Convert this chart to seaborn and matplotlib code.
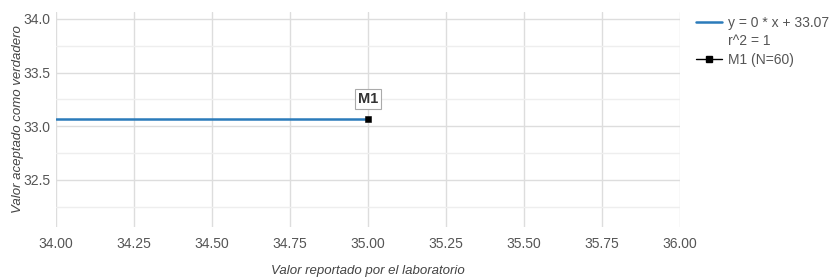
import numpy as np
import pandas as pd
import matplotlib
matplotlib.use("Agg")
import matplotlib.pyplot as plt
import seaborn as sns
from matplotlib.lines import Line2D
from matplotlib.ticker import MultipleLocator

# datos
linea_x = [34.0, 35.0]
linea_y = [33.07, 33.07]
puntos_x = [35.0]
puntos_y = [33.07]
puntos_nombre = ["M1"]
etiqueta_recta = "y = 0 * x + 33.07"
etiqueta_r2 = "r^2 = 1"
etiqueta_puntos = "M1 (N=60)"

sns.set_theme(style="white")
plt.rcParams['font.family'] = ['Liberation Sans', 'DejaVu Sans']

recta = pd.DataFrame({"x": linea_x, "y": linea_y})
puntos = pd.DataFrame({"x": puntos_x, "y": puntos_y, "nombre": puntos_nombre})

fig = plt.figure(figsize=(8.36, 2.8), dpi=100)
ax = fig.add_axes([56/836, 1-227/280, (680-56)/836, (227-12)/280])

sns.lineplot(data=recta, x="x", y="y", ax=ax, color="#2b7bba", linewidth=1.8, legend=False)
sns.scatterplot(data=puntos, x="x", y="y", ax=ax, color="black", marker="s", s=24,
                edgecolor="black", zorder=5, legend=False)

for _, fila in puntos.iterrows():
    ax.annotate(fila["nombre"], (fila["x"], fila["y"]), xytext=(0, 14), textcoords="offset points",
                ha="center", va="center", fontsize=10.5, fontweight="bold", color="#333333",
                bbox=dict(boxstyle="square,pad=0.2", fc="white", ec="#aaaaaa", lw=0.8))

ax.set_xlim(34, 36)
ax.set_ylim(32.06, 34.065)
ax.xaxis.set_major_locator(MultipleLocator(0.25))
ax.yaxis.set_major_locator(MultipleLocator(0.5))
ax.yaxis.set_minor_locator(MultipleLocator(0.25))
ax.xaxis.set_major_formatter(matplotlib.ticker.FormatStrFormatter("%.2f"))
ax.yaxis.set_major_formatter(matplotlib.ticker.FormatStrFormatter("%.1f"))
ax.grid(which="major", color="#dddddd", linewidth=1)
ax.grid(which="minor", axis="y", color="#eeeeee", linewidth=1)
ax.set_axisbelow(True)
for s in ax.spines.values():
    s.set_visible(False)
ax.tick_params(axis="both", which="both", length=0, labelsize=10, labelcolor="#555555", pad=4)
ax.tick_params(axis="x", pad=7)

ax.set_xlabel("Valor reportado por el laboratorio", fontsize=9.5, style="italic", color="#444444")
ax.set_ylabel("Valor aceptado como verdadero", fontsize=9.5, style="italic", color="#444444")
ax.xaxis.set_label_coords(0.5, (227-271)/215, transform=ax.transAxes)
ax.yaxis.set_label_coords((18-56)/624, 0.5, transform=ax.transAxes)
ax.xaxis.label.set_va("center")
ax.yaxis.label.set_va("center")

handles = [Line2D([], [], color="#2b7bba", linewidth=1.8),
           Line2D([], [], color="none", linewidth=0),
           Line2D([], [], color="black", linewidth=1, marker="s", markersize=4.5)]
leg = fig.legend(handles, [etiqueta_recta, etiqueta_r2, etiqueta_puntos], loc="upper left",
                 bbox_to_anchor=(683/836, 1-3/280), frameon=False, fontsize=10,
                 labelcolor="#555555", handlelength=1.9, handletextpad=0.45, labelspacing=0.35)

fig.savefig("out.png", dpi=100)
